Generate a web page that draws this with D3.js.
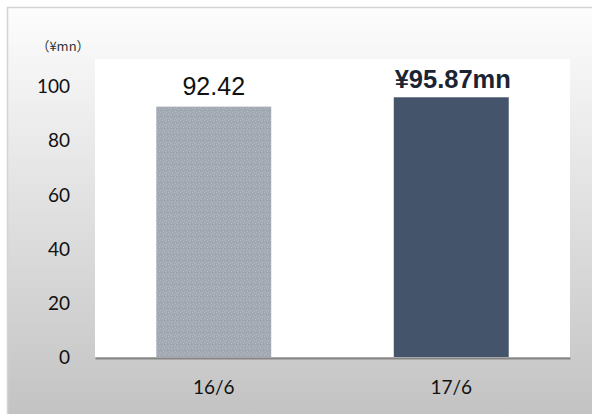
<!DOCTYPE html>
<html><head><meta charset="utf-8">
<script src="https://cdn.jsdelivr.net/npm/d3@7"></script>
<style>html,body{margin:0;padding:0;background:#fff;}svg{display:block;}</style>
</head><body>
<svg id="c" width="592" height="414"></svg>
<script>
const categories = ["16/6", "17/6"];
const values = [92.42, 95.87];
const valueLabels = ["92.42", "¥95.87mn"];
const yTicks = [0, 20, 40, 60, 80, 100];
const unitLabel = "（¥mn）";

const svg = d3.select("#c");
const defs = svg.append("defs");
const grad = defs.append("linearGradient").attr("id","bg").attr("x1",0).attr("y1",0).attr("x2",0).attr("y2",1);
grad.append("stop").attr("offset","0%").attr("stop-color","#fdfdfd");
grad.append("stop").attr("offset","100%").attr("stop-color","#c1c1c1");

const pat = defs.append("pattern").attr("id","dots").attr("patternUnits","userSpaceOnUse").attr("width",6).attr("height",6);
pat.append("rect").attr("width",6).attr("height",6).attr("fill","#a3a9b3");
[[0,0],[3,1],[1,3],[4,4],[2,5]].forEach(([x,y])=>pat.append("rect").attr("x",x).attr("y",y).attr("width",1).attr("height",1).attr("fill","#b6bbc3"));
[[5,2],[2,2]].forEach(([x,y])=>pat.append("rect").attr("x",x).attr("y",y).attr("width",1).attr("height",1).attr("fill","#989ea8"));

// frame
svg.append("rect").attr("x",7.5).attr("y",7.5).attr("width",600).attr("height",420)
  .attr("fill","url(#bg)").attr("stroke","#d4d4d4").attr("stroke-width",1.5);

const plot = {left:95, right:570, top:59, bottom:357};
svg.append("rect").attr("x",plot.left).attr("y",plot.top).attr("width",plot.right-plot.left).attr("height",plot.bottom-plot.top).attr("fill","#ffffff");

const x = d3.scaleBand().domain(categories).range([plot.left, plot.right]).paddingInner(0.516).paddingOuter(0.258);
const y = d3.scaleLinear().domain([0,110]).range([plot.bottom, plot.top]);

const colors = ["url(#dots)", "#44546a"];
svg.selectAll("rect.bar").data(values).enter().append("rect").attr("class","bar")
  .attr("x",(d,i)=>x(categories[i])).attr("width",x.bandwidth())
  .attr("y",d=>y(d)).attr("height",d=>y(0)-y(d)).attr("fill",(d,i)=>colors[i]);

// y axis
const yAxis = d3.axisLeft(y).tickValues(yTicks).tickSize(0).tickPadding(0);
const gy = svg.append("g").attr("transform","translate(70,0)").call(yAxis);
gy.select(".domain").remove();
gy.selectAll("text").attr("font-family","Lato, sans-serif").attr("font-size",19).attr("fill","#111").attr("dy","0.35em");

// x axis
const xAxis = d3.axisBottom(x).tickSize(0).tickPadding(0);
const gx = svg.append("g").attr("transform",`translate(0,${plot.bottom})`).call(xAxis);
gx.select(".domain").attr("stroke","#858585").attr("stroke-width",2).attr("transform","translate(0,1)");
gx.selectAll("text").attr("font-family","Lato, sans-serif").attr("font-size",19).attr("fill","#111").attr("y",37).attr("dy",0);

// value labels
svg.append("text").attr("x",x(categories[0])+x.bandwidth()/2).attr("y",95)
  .attr("text-anchor","middle").attr("font-family","Liberation Sans, Arial, sans-serif").attr("font-size",25).attr("fill","#111").text(valueLabels[0]);
svg.append("text").attr("x",x(categories[1])+x.bandwidth()/2+1.5).attr("y",88)
  .attr("text-anchor","middle").attr("font-family","Liberation Sans, Arial, sans-serif").attr("font-weight","bold").attr("font-size",25.5)
  .attr("fill","#1b2433").text(valueLabels[1]);

svg.append("text").attr("x",63).attr("y",51).attr("text-anchor","middle")
  .attr("font-family","Noto Sans CJK JP, sans-serif").attr("font-size",13).attr("fill","#333").text(unitLabel);
</script>
</body></html>
